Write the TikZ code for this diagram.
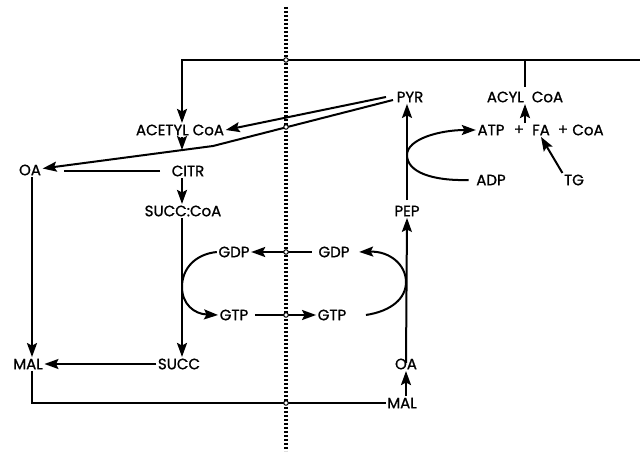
\documentclass[tikz,border=0pt]{standalone}
\usepackage{fontspec}
\setmainfont{Poppins}
\newfontfamily\lblfont{Poppins}[FakeBold=1]
\usetikzlibrary{arrows.meta}
\begin{document}
\begin{tikzpicture}[x=1pt,y=-1pt,
  lbl/.style={inner sep=1.5pt,font=\lblfont\fontsize{15}{15}\selectfont},
  ln/.style={line width=2pt},
  arr/.style={ln,-{Stealth[length=14pt,width=10pt,inset=2.5pt]}},
  cross/.style={circle,draw,fill=white,line width=1pt,inner sep=0pt,minimum size=4.5pt}]
\useasboundingbox (0,0) rectangle (640,454);
% nodes
\node[lbl] (acetyl) at (180,130) {ACETYL CoA};
\node[lbl] (citr) at (188,171) {CITR};
\node[lbl] (succoa) at (183,211) {SUCC:CoA};
\node[lbl] (oa1) at (30,170) {OA};
\node[lbl] (mal1) at (28,364) {MAL};
\node[lbl] (succ) at (179,364) {SUCC};
\node[lbl] (gdp1) at (234,252) {GDP};
\node[lbl] (gtp1) at (234,315) {GTP};
\node[lbl] (gdp2) at (334,252) {GDP};
\node[lbl] (gtp2) at (332,315) {GTP};
\node[lbl] (pyr) at (410,97) {PYR};
\node[lbl] (pep) at (407,211) {PEP};
\node[lbl] (oa2) at (406,364) {OA};
\node[lbl] (mal2) at (402,403) {MAL};
\node[lbl] (acyl) at (525,97) {ACYL\ \ CoA};
\node[lbl] (atp) at (491,130) {ATP};
\node[lbl] (plus1) at (519,130) {+};
\node[lbl] (fa) at (541,130) {FA};
\node[lbl] (plus2) at (563,130) {+};
\node[lbl] (coa) at (588,130) {CoA};
\node[lbl] (adp) at (491,180) {ADP};
\node[lbl] (tg) at (574,180) {TG};
% coordinates
\coordinate (tl) at (182,60);
\coordinate (tr) at (640,60);
\coordinate (tb) at (525,60);
\coordinate (p1) at (386,97);
\coordinate (p2) at (393,100);
\coordinate (bend) at (213,146);
\coordinate (j) at (182,150);
\coordinate (c1) at (160,171);
\coordinate (c2) at (64,171);
\coordinate (bl) at (32,403);
\coordinate (lc) at (182,287);
\coordinate (rc) at (406,282);
\coordinate (ac) at (407,155);
\coordinate (dtop) at (286,7);
\coordinate (dbot) at (286,451);
% dotted membrane
\draw[line width=3.2pt,dash pattern=on 2.4pt off 1.6pt] (dtop) -- (dbot);
% connectors
\draw[arr] (tr) -- (tl) -- (acetyl.north -| tl);
\draw[ln] (tb) -- ([yshift=3pt]acyl.north);
\draw[arr] (p1) -- (acetyl.east);
\draw[arr] (p2) -- (bend) -- ([yshift=1.5pt]oa1.east);
\draw[arr] (acetyl.south -| j) -- (j);
\draw[ln] (c1) -- (c2);
\draw[arr] (citr.south -| j) -- (succoa.north -| j);
\draw[arr] (oa1.south -| bl) -- (mal1.north -| bl);
\draw[ln] (mal1.south -| bl) -- (bl) -- (mal2.west);
\draw[arr] (succoa.south -| j) -- (succ.north -| j);
\draw[arr] (succ.west) -- (mal1.east);
\draw[arr] ([xshift=-5pt]gdp2.west) -- (gdp1.east);
\draw[arr] ([xshift=5pt]gtp1.east) -- (gtp2.west);
\draw[arr] (gdp1.west) .. controls (196,254) and (182,268) .. (lc)
  .. controls (182,304) and (194,314) .. (gtp1.west);
\draw[arr] ([xshift=18pt]gtp2.east) .. controls (392,311) and (406,298) .. (rc)
  .. controls (406,265) and (390,251) .. ([xshift=8pt]gdp2.east);
\draw[arr] ([yshift=-6pt]oa2.north) -- (pep.south);
\draw[arr] ([yshift=4pt]pep.north) -- (pyr.south -| pep);
\draw[arr] ([xshift=-6pt]adp.west) .. controls (432,181) and (407,172) .. (ac)
  .. controls (407,139) and (440,130) .. (atp.west);
\draw[arr] (fa.north -| tb) -- (acyl.south -| tb);
\draw[arr] (tg.north west) -- (fa.south);
\draw[arr] (mal2.north -| oa2) -- (oa2.south);
% crossing marks
\node[cross] (x1) at (dtop |- tl) {};
\node[cross] (x2) at (286,127) {};
\node[cross] (x3) at (dtop |- gdp1) {};
\node[cross] (x4) at (dtop |- gtp1) {};
\node[cross] (x5) at (dtop |- bl) {};
\end{tikzpicture}
\end{document}
